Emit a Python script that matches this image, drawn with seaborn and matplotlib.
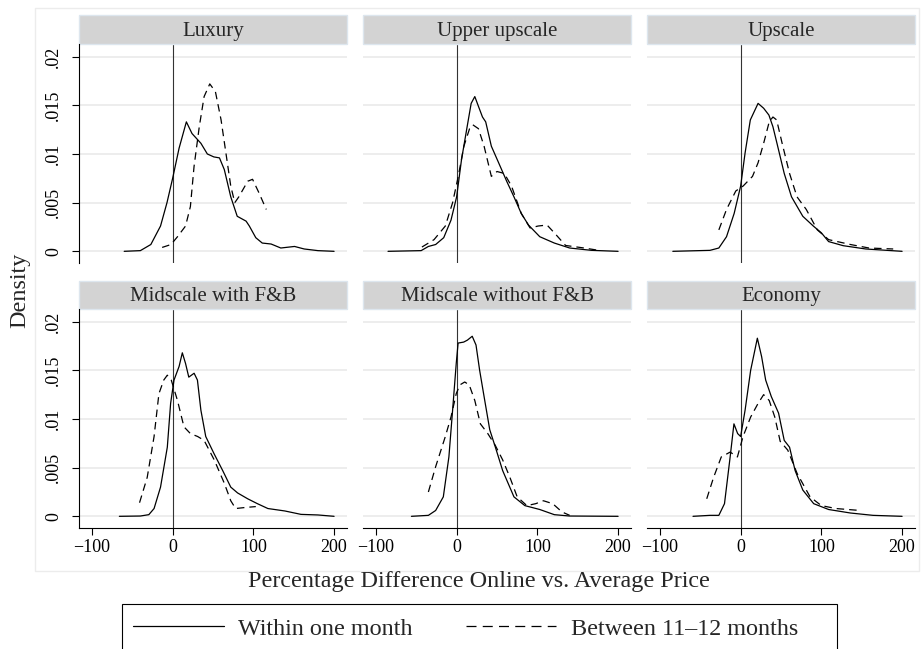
import matplotlib.pyplot as plt
from matplotlib.lines import Line2D
from matplotlib.patches import Rectangle
import seaborn as sns

sns.set_theme(style="white")
plt.rcParams['font.family'] = ['Liberation Serif', 'DejaVu Serif']

# Panel names, series names and tick labels
panels = ["Luxury", "Upper upscale", "Upscale",
          "Midscale with F&B", "Midscale without F&B", "Economy"]
series = ["Within one month", "Between 11\u201312 months"]
yticks = [0, 0.005, 0.01, 0.015, 0.02]
ytick_labels = ["0", ".005", ".01", ".015", ".02"]
xticks = [-100, 0, 100, 200]

# Density curves (x = % difference, y = density)
lux_1m_x = [-60, -40, -27, -15, -7, 0, 8, 17, 24, 35, 43, 51, 58, 64, 72, 80, 91, 95, 103, 111, 122, 134, 151, 163, 180, 200]
lux_1m_y = [0, 0.00007, 0.0007, 0.0026, 0.005, 0.0075, 0.0106, 0.0133, 0.0121, 0.0111, 0.0100, 0.0097, 0.0096, 0.0084,
            0.0056, 0.0036, 0.0031, 0.0026, 0.0014, 0.00085, 0.00075, 0.00034, 0.0005, 0.00024, 0.00007, 0]
lux_1y_x = [-13, -2, 6, 16, 22, 26.5, 33, 39, 46, 53, 60, 66, 72, 77, 82, 93, 99, 107, 116]
lux_1y_y = [0.0004, 0.0007, 0.0015, 0.0026, 0.0046, 0.0087, 0.0128, 0.0159, 0.0172, 0.0164, 0.0135, 0.0101, 0.0067,
            0.0050, 0.0056, 0.0072, 0.0074, 0.0060, 0.0043]

uu_1m_x = [-85, -44, -35, -26, -16, -7, 0, 6, 13, 18, 22.5, 27, 32, 36, 43, 52, 62, 71, 80, 89, 103, 121, 140, 167, 200]
uu_1m_y = [0, 0.00007, 0.0005, 0.0007, 0.0014, 0.0032, 0.0056, 0.0094, 0.0128, 0.0152, 0.0159, 0.0149, 0.0138, 0.0133,
           0.0108, 0.0091, 0.0072, 0.0056, 0.0039, 0.0027, 0.0015, 0.00085, 0.00034, 0.0001, 0]
uu_1y_x = [-43, -28, -14, -5, 2, 9, 16, 20, 27, 34, 43, 50, 59, 68, 80, 91, 101, 112, 121, 135, 158, 176]
uu_1y_y = [0.00044, 0.0012, 0.0026, 0.005, 0.0077, 0.0108, 0.0126, 0.0130, 0.0126, 0.0108, 0.0077, 0.0082, 0.0080,
           0.0067, 0.0039, 0.0024, 0.0026, 0.0027, 0.0019, 0.0006, 0.00034, 0.0001]

up_1m_x = [-84, -38, -27, -17.5, -8, 0, 5.5, 12, 21.6, 28.5, 35, 40, 45, 54, 63, 77, 90, 100, 109, 127, 155, 200]
up_1m_y = [0, 0.0001, 0.00034, 0.0015, 0.0039, 0.0067, 0.0101, 0.0135, 0.0152, 0.0147, 0.0140, 0.0128, 0.0111, 0.0080,
           0.0056, 0.0036, 0.0026, 0.0019, 0.001, 0.00058, 0.00024, 0]
up_1y_x = [-27, -17.5, -6, 3, 14.7, 21.6, 28.5, 35.4, 40, 44.6, 51.4, 60.6, 69.8, 81.3, 95, 109, 136, 159, 189]
up_1y_y = [0.0022, 0.0043, 0.0062, 0.0067, 0.0077, 0.0091, 0.0111, 0.0133, 0.0138, 0.0135, 0.0111, 0.0080, 0.0056,
           0.0043, 0.0022, 0.0012, 0.0007, 0.00034, 0.00024]

mw_1m_x = [-66, -40, -29.5, -23, -15, -6.6, -2.5, 1.7, 8, 12, 16, 20, 26.6, 30.7, 35, 41, 51.5, 62, 72, 80.5, 93, 105,
           118, 139, 159, 180, 200]
mw_1m_y = [0, 0.00003, 0.00017, 0.0008, 0.0030, 0.0071, 0.0116, 0.0140, 0.0154, 0.0168, 0.0157, 0.0143, 0.0147, 0.0140,
           0.0109, 0.0082, 0.0064, 0.0047, 0.0030, 0.0024, 0.0018, 0.0013, 0.0008, 0.00055, 0.0002, 0.00014, 0]
mw_1y_x = [-41, -31.5, -23, -17, -11, -6.6, -1.7, 6, 14, 22, 31, 39, 51.5, 64, 72, 78, 89, 103]
mw_1y_y = [0.0014, 0.0040, 0.0082, 0.0126, 0.0140, 0.0145, 0.0140, 0.0119, 0.0092, 0.0085, 0.0082, 0.0078, 0.0058,
           0.0034, 0.0016, 0.0008, 0.0009, 0.001]

mo_1m_x = [-56, -35, -26, -16.5, -9.6, -5, -0.5, 1.8, 8.7, 13.3, 19.3, 24, 28.5, 34, 41, 48, 57, 71, 84.5, 103, 121, 140, 200]
mo_1m_y = [0, 0.0001, 0.0006, 0.0020, 0.0061, 0.0109, 0.0157, 0.0178, 0.0179, 0.0181, 0.0185, 0.0176, 0.0150, 0.0123,
           0.0089, 0.0071, 0.0047, 0.0020, 0.0011, 0.0007, 0.00017, 0.00003, 0]
mo_1y_x = [-35, -26, -14, -7, -0.5, 4, 10, 15.6, 22.5, 29.4, 38.6, 47.8, 57, 66, 75, 87, 98, 107.5, 119, 130.5, 140]
mo_1y_y = [0.0025, 0.0051, 0.0082, 0.0102, 0.0126, 0.0135, 0.0138, 0.0135, 0.0119, 0.0095, 0.0085, 0.0073, 0.0058,
           0.0040, 0.0020, 0.0011, 0.0013, 0.0016, 0.0013, 0.00045, 0.0001]

ec_1m_x = [-59, -38, -27, -20, -13, -8.3, -3.7, 0, 5.5, 12.4, 20.7, 26, 31, 38, 47, 54, 60.6, 67.5, 77, 90.5, 109, 136, 164, 200]
ec_1m_y = [0, 0.0001, 0.0001, 0.0013, 0.0061, 0.0095, 0.0085, 0.0082, 0.0109, 0.0150, 0.0183, 0.0164, 0.0140, 0.0123,
           0.0106, 0.0078, 0.0071, 0.0047, 0.0027, 0.0013, 0.0007, 0.00034, 0.0001, 0]
ec_1y_x = [-42, -33.5, -24, -13, -4, 3, 12.4, 21.6, 28.5, 35.4, 42.3, 49, 58.4, 70, 86, 100, 118, 148]
ec_1y_y = [0.0018, 0.0040, 0.0061, 0.0066, 0.0061, 0.0082, 0.0102, 0.0116, 0.0125, 0.0119, 0.0102, 0.0077, 0.0068,
           0.0044, 0.0020, 0.0011, 0.0008, 0.0006]

curves = [
    (lux_1m_x, lux_1m_y, lux_1y_x, lux_1y_y),
    (uu_1m_x, uu_1m_y, uu_1y_x, uu_1y_y),
    (up_1m_x, up_1m_y, up_1y_x, up_1y_y),
    (mw_1m_x, mw_1m_y, mw_1y_x, mw_1y_y),
    (mo_1m_x, mo_1m_y, mo_1y_x, mo_1y_y),
    (ec_1m_x, ec_1m_y, ec_1y_x, ec_1y_y),
]

dash = (0, (6, 4))
W, H = 922, 649
fig = plt.figure(figsize=(W / 100, H / 100), dpi=100)

# Light frame round the plot region
fig.patches.append(Rectangle((35 / W, 1 - 571 / H), (919 - 35) / W, (571 - 8) / H,
                             transform=fig.transFigure, fill=False,
                             edgecolor='#ececec', lw=1))

lefts = [79, 363, 647]
tops = [44, 309]
aw, ah = 268, 219
strip_h = 28.5

for i, name in enumerate(panels):
    r, c = divmod(i, 3)
    ax = fig.add_axes([lefts[c] / W, 1 - (tops[r] + ah) / H, aw / W, ah / H])
    x1, y1, x2, y2 = curves[i]

    sns.lineplot(x=x1, y=y1, ax=ax, color='black', lw=0.9, estimator=None, sort=False)
    sns.lineplot(x=x2, y=y2, ax=ax, color='black', lw=0.9, estimator=None, sort=False,
                 linestyle=dash)
    ax.axvline(0, color='#333333', lw=0.8, zorder=1)

    ax.set_xlim(-116, 216)
    ax.set_ylim(-0.0012, 0.0213)
    ax.set_yticks(yticks)
    ax.set_yticklabels(ytick_labels)
    ax.set_xticks(xticks)
    ax.yaxis.grid(True, color='#eaeaea', lw=1.2)
    ax.xaxis.grid(False)
    ax.set_axisbelow(True)
    ax.set_xlabel('')
    ax.set_ylabel('')

    for side in ['top', 'right', 'left', 'bottom']:
        ax.spines[side].set_visible(False)
    if c == 0:
        ax.spines['left'].set_visible(True)
        ax.spines['left'].set_color('black')
        ax.spines['left'].set_linewidth(0.8)
    if r == 1:
        ax.spines['bottom'].set_visible(True)
        ax.spines['bottom'].set_color('black')
        ax.spines['bottom'].set_linewidth(0.8)

    ax.tick_params(axis='y', left=(c == 0), labelleft=(c == 0), length=5, width=0.8,
                   direction='out', pad=7, labelsize=13, labelrotation=90, colors='black')
    for lab in ax.get_yticklabels():
        lab.set_va('center')
    ax.tick_params(axis='x', bottom=(r == 1), labelbottom=(r == 1), length=5, width=0.8,
                   direction='out', pad=3, labelsize=13, colors='black')

    # Grey strip with panel title
    ax.add_patch(Rectangle((0, 1), 1, strip_h / ah, transform=ax.transAxes,
                           facecolor='#d3d3d3', edgecolor='#dde6ee', lw=1, clip_on=False))
    ax.text(0.5, 1 + (strip_h / 2 - 2) / ah, name, transform=ax.transAxes,
            ha='center', va='center', fontsize=15)

fig.text(479 / W, 1 - 582 / H, "Percentage Difference Online vs. Average Price",
         ha='center', va='center', fontsize=17.4)
fig.text(20 / W, 1 - 290 / H, "Density", rotation=90,
         ha='center', va='center', fontsize=17.4)

# Legend: frame drawn separately, it runs off the bottom edge
fig.patches.append(Rectangle((122 / W, 1 - 665 / H), 715 / W, 61 / H,
                             transform=fig.transFigure, fill=False,
                             edgecolor='black', lw=0.8))
handles = [Line2D([], [], color='black', lw=0.9),
           Line2D([], [], color='black', lw=0.9, linestyle=(0, (8, 5)))]
fig.legend(handles, series, loc='upper left',
           bbox_to_anchor=(133 / W, 1 - 618 / H),
           ncol=2, borderaxespad=0, borderpad=0, fontsize=17.4,
           handlelength=3.75, handletextpad=0.6, columnspacing=2.2,
           frameon=False)

fig.savefig('out.png', dpi=100)
